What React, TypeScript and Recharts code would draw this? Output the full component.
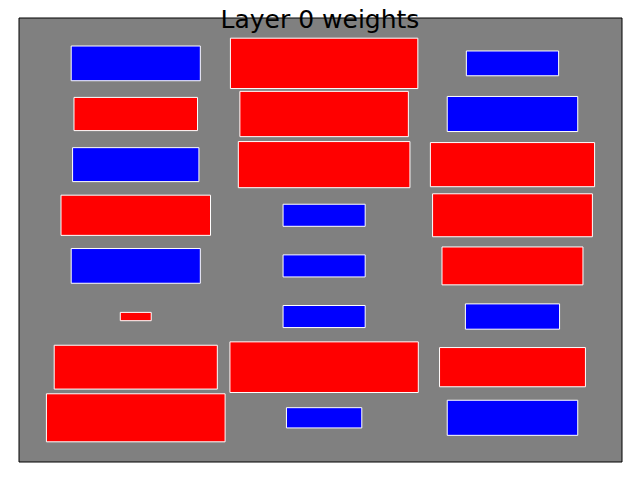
import React from "react";
import {
  ComposedChart,
  XAxis,
  YAxis,
  Scatter,
  ReferenceArea,
} from "recharts";

// weight matrix, rows top to bottom, 3 columns
const ROWS = [0, 1, 2, 3, 4, 5, 6, 7];
const COLS = [0, 1, 2];
const WEIGHTS: number[][] = [
  [-0.47, 0.99, -0.24],
  [0.43, 0.8, -0.48],
  [-0.45, 0.83, 0.76],
  [0.63, -0.19, 0.72],
  [-0.47, -0.19, 0.56],
  [0.027, -0.19, -0.25],
  [0.75, 1.0, 0.6],
  [0.9, -0.16, -0.48],
];
const TITLE = "Layer 0 weights";

const maxW = Math.max(...WEIGHTS.flat().map((w) => Math.abs(w)));

const cells = ROWS.flatMap((r) =>
  COLS.map((c) => {
    const w = WEIGHTS[r][c];
    const size = Math.sqrt(Math.abs(w) / maxW);
    return { row: r, col: c, w, size };
  })
);

// autoscale like matplotlib: data limits + 5% margin
function limits(lo: number[], hi: number[]): [number, number] {
  const a = Math.min(...lo);
  const b = Math.max(...hi);
  const m = (b - a) * 0.05;
  return [a - m, b + m];
}
const xDomain = limits(
  cells.map((d) => d.col - d.size / 2),
  cells.map((d) => d.col + d.size / 2)
);
const yDomain = limits(
  cells.map((d) => d.row - d.size / 2),
  cells.map((d) => d.row + d.size / 2)
);

export default function App() {
  return (
    <div style={{ position: "relative", width: 640, height: 480, background: "#fff" }}>
      <style>{"body{margin:0}"}</style>
      <ComposedChart
        width={640}
        height={480}
        data={cells}
        margin={{ top: 18, right: 18, bottom: 18, left: 19 }}
      >
        <XAxis type="number" dataKey="col" domain={xDomain} hide allowDataOverflow />
        <YAxis
          type="number"
          dataKey="row"
          domain={yDomain}
          reversed
          hide
          allowDataOverflow
        />
        <ReferenceArea
          x1={xDomain[0]}
          x2={xDomain[1]}
          y1={yDomain[0]}
          y2={yDomain[1]}
          fill="#808080"
          fillOpacity={1}
          stroke="#000"
          strokeWidth={1}
          ifOverflow="visible"
        />
        {cells.map((d) => (
          <ReferenceArea
            key={`${d.row}-${d.col}`}
            x1={d.col - d.size / 2}
            x2={d.col + d.size / 2}
            y1={d.row - d.size / 2}
            y2={d.row + d.size / 2}
            fill={d.w > 0 ? "#ff0000" : "#0000ff"}
            fillOpacity={1}
            stroke="#fff"
            strokeWidth={1}
            ifOverflow="visible"
          />
        ))}
        <Scatter dataKey="row" fill="none" shape={() => <g />} isAnimationActive={false} />
      </ComposedChart>
      <div
        style={{
          position: "absolute",
          left: 0,
          top: 5,
          width: 640,
          textAlign: "center",
          fontFamily: "DejaVu Sans",
          fontSize: 25,
          lineHeight: "30px",
          color: "#000",
        }}
      >
        {TITLE}
      </div>
    </div>
  );
}
